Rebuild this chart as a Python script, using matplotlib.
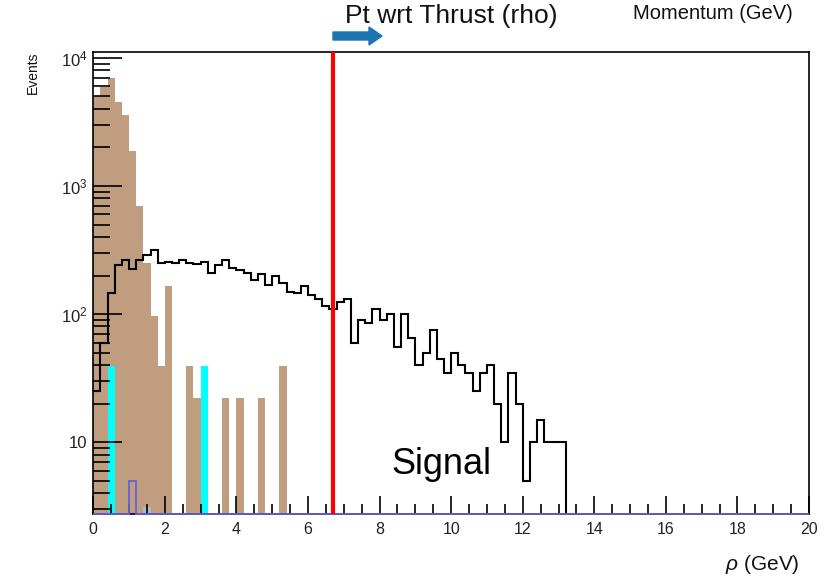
import numpy as np
import matplotlib
matplotlib.use("Agg")
import matplotlib.pyplot as plt
from matplotlib.patches import FancyArrow
from matplotlib.transforms import IdentityTransform
from matplotlib.ticker import FixedLocator, MultipleLocator, NullFormatter

plt.rcParams['font.family'] = ['Liberation Sans', 'DejaVu Sans']
plt.rcParams['mathtext.fontset'] = 'custom'
plt.rcParams['mathtext.rm'] = 'Liberation Sans'
plt.rcParams['mathtext.it'] = 'Liberation Sans:italic'

# ---------------- data (bin width 0.2 GeV, 0..20) ----------------
bin_edges = np.linspace(0, 20, 101)

# Signal (black outline), lower bin edges from 0.0 to 13.0
signal_values = [25, 60, 145, 240, 265, 225, 265, 290, 315, 250,
                 255, 250, 265, 250, 245, 255, 210, 240, 265, 230,
                 220, 210, 185, 205, 170, 200, 175, 150, 145, 165,
                 140, 130, 115, 110, 125, 130, 60, 90, 85, 110,
                 90, 100, 55, 100, 65, 40, 50, 75, 45, 35,
                 50, 40, 35, 25, 35, 40, 20, 10, 35, 20,
                 5, 10, 15, 10, 10, 10]

# Brown background (filled)
brown_lo = [0.0, 0.2, 0.4, 0.6, 0.8, 1.0, 1.2, 1.4, 1.6, 1.8, 2.0,
            2.6, 2.8, 3.6, 4.0, 4.6, 5.2]
brown_val = [5000, 5900, 6900, 4500, 3600, 1870, 700, 250, 97, 39, 166,
             39, 22, 22, 22, 22, 39]

# Cyan background (filled)
cyan_lo = [0.4, 3.0]
cyan_val = [39, 39]

# Purple background (outline)
purple_lo = [1.0]
purple_val = [5]

# Grey-blue background (filled)
grey_lo = [1.4]
grey_val = [3.1]

cut_value = 6.7
y_min, y_max = 2.77, 11000

def hist(lo, val):
    h, _ = np.histogram(np.asarray(lo) + 0.1, bins=bin_edges, weights=val)
    return h

sig = np.zeros(len(bin_edges) - 1)
sig[:len(signal_values)] = signal_values
brown = hist(brown_lo, brown_val)
cyan = hist(cyan_lo, cyan_val)
purple = hist(purple_lo, purple_val)
grey = hist(grey_lo, grey_val)

# ---------------- figure ----------------
fig = plt.figure(figsize=(8.32, 5.76), dpi=100)
ax = fig.add_axes([0.1121, 0.1082, 0.8603, 0.8007])
ax.set_yscale('log')

tiny = 1e-3
ax.stairs(np.where(brown > 0, brown, tiny), bin_edges, baseline=tiny,
          fill=True, color='#bf9d7e', zorder=1)
ax.stairs(np.where(cyan > 0, cyan, tiny), bin_edges, baseline=tiny,
          fill=True, color='#00ffff', zorder=1.2)
ax.stairs(np.where(grey > 0, grey, tiny), bin_edges, baseline=tiny,
          fill=True, color='#a8bccb', zorder=1.3)
ax.stairs(np.maximum(purple, y_min), bin_edges, baseline=None,
          color='#6a5fd6', lw=1.3, zorder=3, clip_on=False)
ax.stairs(np.where(sig > 0, sig, tiny), bin_edges, baseline=None,
          color='black', lw=1.5, zorder=2)
ax.axvline(cut_value, color='#ff0000', lw=3.0, zorder=4)

ax.set_xlim(0, 20)
ax.set_ylim(y_min, y_max)

# ticks (ROOT style, inside)
ax.xaxis.set_major_locator(MultipleLocator(2))
ax.xaxis.set_minor_locator(MultipleLocator(0.5))
ax.yaxis.set_major_locator(FixedLocator([10, 100, 1000, 10000]))
ax.set_yticklabels(['10', '$10^2$', '$10^3$', '$10^4$'])
minors = [m * 10 ** d for d in range(0, 4) for m in range(2, 10)]
ax.yaxis.set_minor_locator(FixedLocator(minors))
ax.yaxis.set_minor_formatter(NullFormatter())
ax.tick_params(axis='x', which='major', direction='in', length=13, width=1.2,
               labelsize=11.5, pad=6, labelcolor='#222222')
ax.tick_params(axis='x', which='minor', direction='in', length=7, width=1.2)
ax.tick_params(axis='y', which='major', direction='in', length=21, width=1.2,
               labelsize=12, pad=4, labelcolor='#222222')
ax.tick_params(axis='y', which='minor', direction='in', length=12, width=1.2)
for s in ax.spines.values():
    s.set_linewidth(1.2)

# ---------------- texts ----------------
fig.text(451 / 832, 1 - 16 / 576, 'Pt wrt Thrust (rho)', ha='center',
         va='center', fontsize=19, color='#111111')
fig.text(713 / 832, 1 - 19 / 576, 'Momentum (GeV)', ha='center',
         va='baseline', fontsize=14.5, color='#111111')
fig.text(33 / 832, 1 - 73 / 576, 'Events', rotation=90, ha='center',
         va='center', fontsize=10, color='#111111')
fig.text(441 / 832, 1 - 465 / 576, 'Signal', ha='center', va='center',
         fontsize=26, color='black')
fig.text(762 / 832, 1 - 565 / 576, r'$\it{\rho}$ (GeV)', ha='center',
         va='center', fontsize=15, color='#111111')

arrow = FancyArrow(333, 576 - 36, 49, 0, width=8, head_width=18,
                   head_length=13, length_includes_head=True,
                   color='#1a75b0', transform=IdentityTransform())
fig.add_artist(arrow)

fig.savefig('out.png', dpi=100)
